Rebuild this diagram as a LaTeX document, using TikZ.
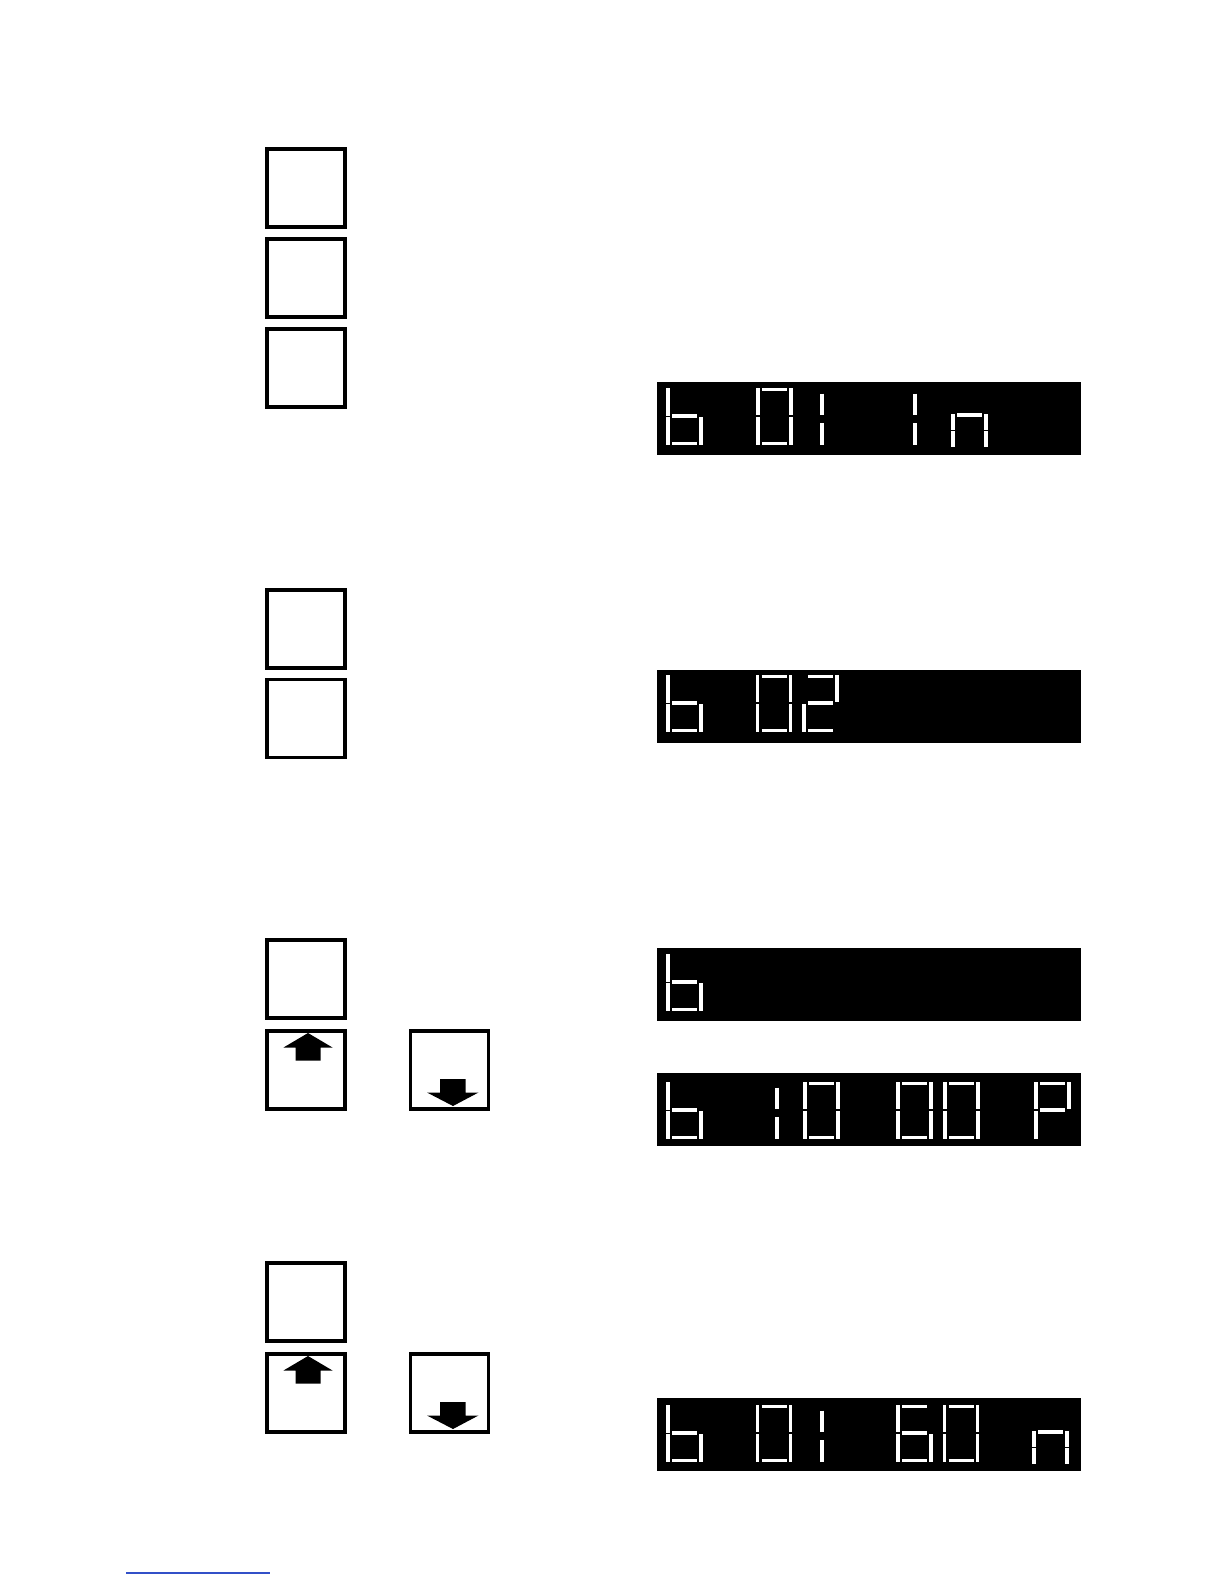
\documentclass[tikz,border=0pt]{standalone}
\definecolor{linkblue}{RGB}{50,80,200}
\tikzset{
  seg/.style={draw=white,line width=1.95pt},
  lcd b/.pic={\draw[seg] (0,0) -- (0,27.5) (0,28.5) -- (0,57) (4,28) -- (29,28) (33,29) -- (33,57) (4,55.5) -- (29,55.5);},
  lcd 0/.pic={\draw[seg] (4,1.5) -- (29,1.5) (33,0) -- (33,27) (33,29) -- (33,57) (4,55.5) -- (29,55.5) (0,29) -- (0,57) (0,0) -- (0,27);},
  lcd 1/.pic={\draw[seg] (0,5.5) -- (0,27) (0,35) -- (0,56.5);},
  lcd 2/.pic={\draw[seg] (4,1.5) -- (29,1.5) (33,0) -- (33,27) (4,28) -- (29,28) (0,29) -- (0,57) (4,55.5) -- (29,55.5);},
  lcd 6/.pic={\draw[seg] (4,1.5) -- (29,1.5) (0,0) -- (0,27) (4,28) -- (29,28) (0,29) -- (0,57) (33,29) -- (33,57) (4,55.5) -- (29,55.5);},
  lcd P/.pic={\draw[seg] (4,1.5) -- (29,1.5) (0,0) -- (0,27) (33,0) -- (33,27) (4,28) -- (29,28) (0,29) -- (0,57);},
  lcd n/.pic={\draw[seg] (4,27) -- (29,27) (0,26) -- (0,42) (0,43) -- (0,59) (33,26) -- (33,42) (33,43) -- (33,59);},
  arrow up/.pic={\fill (2,-37) -- (26.5,-22.5) -- (14.5,-22.5) -- (14.5,-9.5) -- (-10.5,-9.5) -- (-10.5,-22.5) -- (-22.5,-22.5) -- cycle;},
  arrow down/.pic={\fill (3.5,36) -- (29,22.5) -- (16,22.5) -- (16,9) -- (-9.5,9) -- (-9.5,22.5) -- (-22.5,22.5) -- cycle;}
}
\begin{document}
\begin{tikzpicture}[x=0.5pt,y=-0.5pt,
  key/.style={draw,line width=1.65pt,minimum size=39pt,inner sep=0pt},
  lcd/.style={fill=black,minimum width=212pt,minimum height=36.5pt,inner sep=0pt}]
  \useasboundingbox (0,0) rectangle (1224,1584);
  % keys
  \node[key] (k1a) at (306,188) {};
  \node[key] (k1b) at (306,278) {};
  \node[key] (k1c) at (306,368) {};
  \node[key] (k2a) at (306,629) {};
  \node[key] (k2b) at (306,718.5) {};
  \node[key] (k3a) at (306,979) {};
  \node[key] (up3) at (306,1070) {};
  \node[key] (dn3) at (449.5,1070) {};
  \node[key] (k4a) at (306,1302) {};
  \node[key] (up4) at (306,1393) {};
  \node[key] (dn4) at (449.5,1393) {};
  \pic at (up3) {arrow up};
  \pic at (dn3) {arrow down};
  \pic at (up4) {arrow up};
  \pic at (dn4) {arrow down};
  % displays
  \node[lcd] (disp1) at (869,418.5) {};
  \node[lcd] (disp2) at (869,706) {};
  \node[lcd] (disp3) at (869,984.5) {};
  \node[lcd] (disp4) at (869,1109.5) {};
  \node[lcd] (disp5) at (869,1434) {};
  % b 01 1n
  \pic at (668,388) {lcd b};
  \pic at (758,388) {lcd 0};
  \pic at (822,388) {lcd 1};
  \pic at (915,388) {lcd 1};
  \pic at (953,388) {lcd n};
  % b 02
  \pic at (668,675) {lcd b};
  \pic at (757.5,675) {lcd 0};
  \pic at (804,675) {lcd 2};
  % b
  \pic at (668,954) {lcd b};
  % b 10 00 P
  \pic at (668,1082) {lcd b};
  \pic at (777,1082) {lcd 1};
  \pic at (805,1082) {lcd 0};
  \pic at (898,1082) {lcd 0};
  \pic at (945,1082) {lcd 0};
  \pic at (1036,1082) {lcd P};
  % b 01 60 n
  \pic at (668,1405) {lcd b};
  \pic at (757.5,1405) {lcd 0};
  \pic at (822,1405) {lcd 1};
  \pic at (898,1405) {lcd 6};
  \pic at (944.5,1405) {lcd 0};
  \pic at (1034,1405) {lcd n};
  \draw[linkblue,line width=0.6pt] (126,1573) -- (270,1573);
\end{tikzpicture}
\end{document}
